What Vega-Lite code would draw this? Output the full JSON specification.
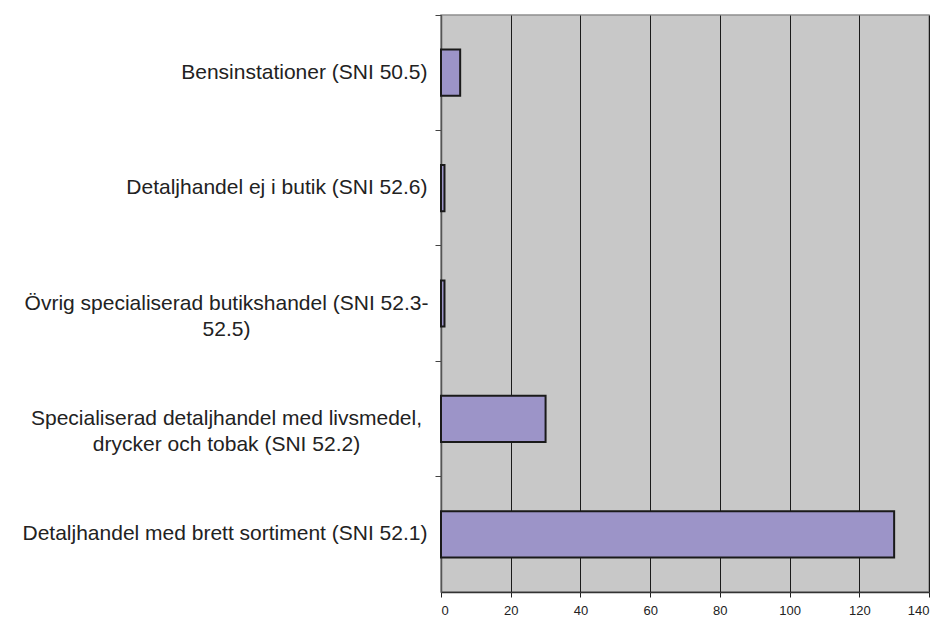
{
  "$schema": "https://vega.github.io/schema/vega-lite/v6.json",
  "width": 488,
  "height": 577,
  "autosize": {"type": "none"},
  "padding": {"left": 441, "top": 15, "right": 19, "bottom": 25},
  "background": "white",
  "config": {
    "view": {"fill": "#c8c8c8", "stroke": "#8f8f8f", "strokeWidth": 1.5},
    "font": "Liberation Sans"
  },
  "data": {
    "values": [
      {"kategori": "Bensinstationer (SNI 50.5)", "antal": 5.5},
      {"kategori": "Detaljhandel ej i butik (SNI 52.6)", "antal": 1},
      {"kategori": "Övrig specialiserad butikshandel (SNI 52.3-|52.5)", "antal": 1},
      {"kategori": "Specialiserad detaljhandel med livsmedel,|drycker och tobak (SNI 52.2)", "antal": 30},
      {"kategori": "Detaljhandel med brett sortiment (SNI 52.1)", "antal": 130}
    ]
  },
  "mark": {"type": "bar", "fill": "#9c94c8", "stroke": "#1a1a1a", "strokeWidth": 2, "height": {"band": 0.4}},
  "encoding": {
    "y": {
      "field": "kategori",
      "type": "nominal",
      "sort": null,
      "scale": {"paddingInner": 0, "paddingOuter": 0},
      "axis": {
        "title": null,
        "labelExpr": "split(datum.label, '|')",
        "labelFontSize": 21,
        "labelLineHeight": 26,
        "labelColor": "#222222",
        "labelLimit": 500,
        "labelAlign": {"condition": {"test": "indexof(datum.value, '|') >= 0", "value": "center"}, "value": "right"},
        "labelPadding": {"condition": {"test": "indexof(datum.value, '|') >= 0", "value": 209}, "value": 8},
        "bandPosition": 0,
        "tickSize": 6,
        "tickColor": "#444444",
        "domainColor": "#555555",
        "domainWidth": 1.5,
        "grid": false
      }
    },
    "x": {
      "field": "antal",
      "type": "quantitative",
      "scale": {"domain": [0, 140], "nice": false},
      "axis": {
        "title": null,
        "values": [0, 20, 40, 60, 80, 100, 120, 140],
        "labelFontSize": 13,
        "labelColor": "#222222",
        "labelPadding": 7,
        "tickSize": 5,
        "tickColor": "#222222",
        "domainColor": "#333333",
        "domainWidth": 1.5,
        "grid": true,
        "gridColor": "#1a1a1a",
        "gridOpacity": 1,
        "gridWidth": 1
      }
    }
  }
}
